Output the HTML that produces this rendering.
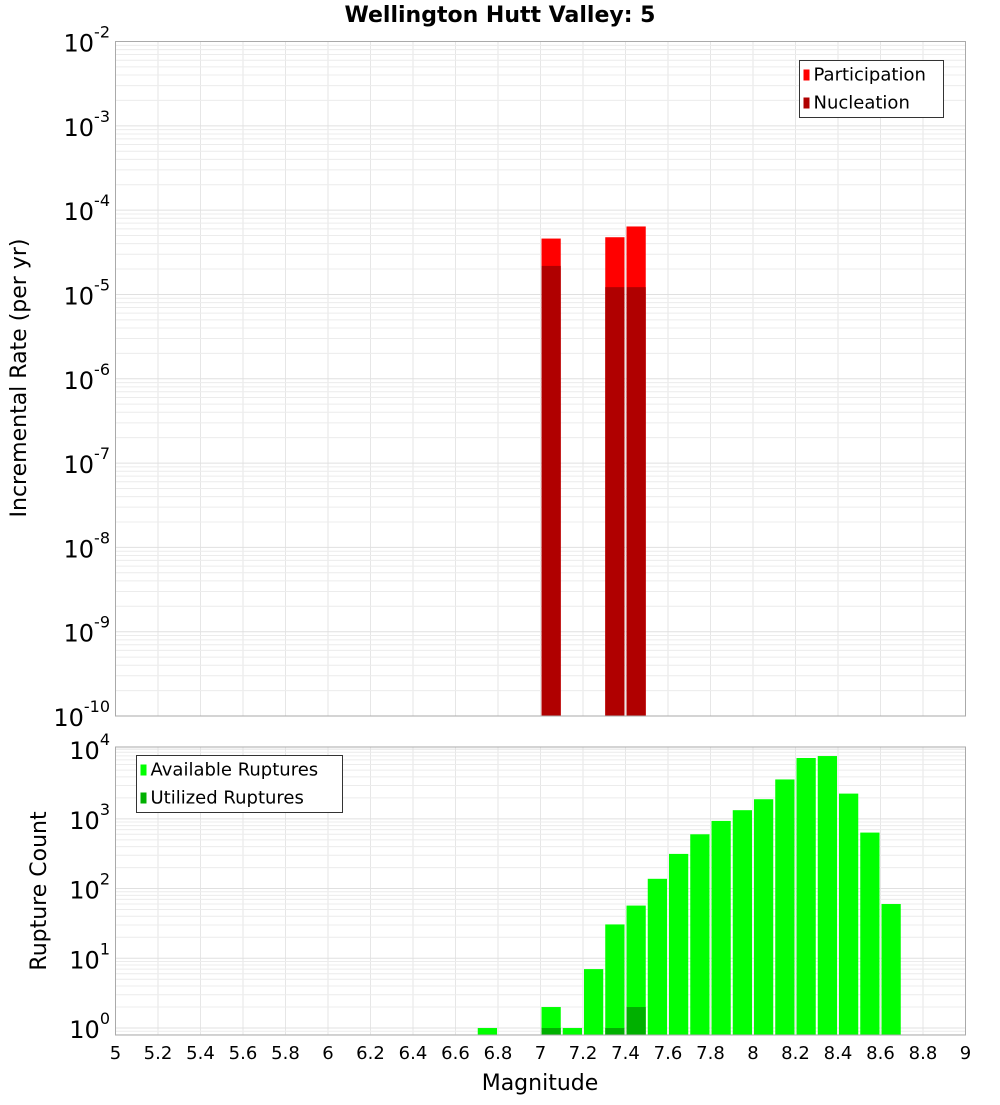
<!DOCTYPE html>
<html><head><meta charset="utf-8"><style>
body{margin:0;background:#fff;font-family:"Liberation Sans","DejaVu Sans",sans-serif;}
svg text{font-family:"DejaVu Sans","Liberation Sans",sans-serif;}
</style></head><body>
<svg id="chart" width="1000" height="1100" xmlns="http://www.w3.org/2000/svg"></svg>
<script>
const topBins=[7.05,7.35,7.45];
const participation=[4.6e-5,4.77e-5,6.4e-5];
const nucleation=[2.18e-5,1.22e-5,1.22e-5];
const botBins=[6.75,7.05,7.15,7.25,7.35,7.45,7.55,7.65,7.75,7.85,7.95,8.05,8.15,8.25,8.35,8.45,8.55,8.65];
const available=[1,2,1,7,30.6,57,138,314,600,933,1330,1910,3670,7450,7950,2300,635,60];
const utilBins=[7.05,7.35,7.45];
const utilized=[1,1,2];
const xTicks=["5","5.2","5.4","5.6","5.8","6","6.2","6.4","6.6","6.8","7","7.2","7.4","7.6","7.8","8","8.2","8.4","8.6","8.8","9"];
const topExps=[-2,-3,-4,-5,-6,-7,-8,-9,-10];
const botExps=[0,1,2,3,4];

const NS="http://www.w3.org/2000/svg";
const svg=document.getElementById('chart');
function mk(tag,attrs,parent){const e=document.createElementNS(NS,tag);for(const k in attrs)e.setAttribute(k,attrs[k]);(parent||svg).appendChild(e);return e;}
const PL=115.5,PR=965.5;
const x=m=>PL+(m-5)/4*(PR-PL);
const T={top:41.5,bot:716,lmin:-10,lmax:-2};
const B={top:747,bot:1035,lmin:-0.1,lmax:4.03};
const yT=v=>T.bot-(Math.log10(v)-T.lmin)/(T.lmax-T.lmin)*(T.bot-T.top);
const yB=v=>B.bot-(Math.log10(v)-B.lmin)/(B.lmax-B.lmin)*(B.bot-B.top);
const bw=0.1;

function grid(P,yf,l0,l1){
  const g=mk('g',{});
  
  
  for(let i=0;i<xTicks.length;i++){const xx=x(5+i*0.2);mk('line',{x1:xx,x2:xx,y1:P.top,y2:P.bot,stroke:'#e6e6e6','stroke-width':1},g);}
  for(let d=Math.floor(l0);d<=Math.ceil(l1);d++){for(let k=1;k<10;k++){const v=k*Math.pow(10,d);const lv=Math.log10(v);if(lv<P.lmin||lv>P.lmax)continue;const yy=yf(v);mk('line',{x1:PL,x2:PR,y1:yy,y2:yy,stroke:k==1?'#e0e0e0':'#ececec','stroke-width':1},g);}}
}
grid(T,yT,T.lmin,T.lmax);
grid(B,yB,B.lmin,B.lmax);

// top bars
for(let i=0;i<topBins.length;i++){
  const x0=x(topBins[i]-bw/2)+1,w=x(topBins[i]+bw/2)-x(topBins[i]-bw/2)-2;
  const p=mk('rect',{x:x0,y:yT(participation[i]),width:w,height:T.bot-yT(participation[i]),fill:'#ff0000'});
  
  
  const n=mk('rect',{x:x0,y:yT(nucleation[i]),width:w,height:T.bot-yT(nucleation[i]),fill:'#b00000'});
  
  
}
// bottom bars
for(let i=0;i<botBins.length;i++){
  const x0=x(botBins[i]-bw/2)+1,w=x(botBins[i]+bw/2)-x(botBins[i]-bw/2)-2;
  const r=mk('rect',{x:x0,y:yB(available[i]),width:w,height:B.bot-yB(available[i]),fill:'#00ff00'});
  
  
}
for(let i=0;i<utilBins.length;i++){
  const x0=x(utilBins[i]-bw/2)+1,w=x(utilBins[i]+bw/2)-x(utilBins[i]-bw/2)-2;
  const r=mk('rect',{x:x0,y:yB(utilized[i]),width:w,height:B.bot-yB(utilized[i]),fill:'#00b000'});
  
  
}
// frames
const f1=mk('rect',{x:PL,y:T.top,width:PR-PL,height:T.bot-T.top,fill:'none',stroke:'#aaaaaa'});


const f2=mk('rect',{x:PL,y:B.top,width:PR-PL,height:B.bot-B.top,fill:'none',stroke:'#aaaaaa'});



// y tick labels
function ylab(yy,e,name){
  const t=mk('text',{x:110,y:yy+10,'text-anchor':'end','font-size':24,fill:'#000'});
  
  
  const a=mk('tspan',{},t);a.textContent='10';
  const s=mk('tspan',{dy:-14,'font-size':16},t);s.textContent=String(e);
}
topExps.forEach(e=>ylab(yT(Math.pow(10,e)),e,'y-tick-label'));
botExps.forEach(e=>ylab(yB(Math.pow(10,e)),e,'y-tick-label'));
// x ticks
xTicks.forEach(s=>{const t=mk('text',{x:x(parseFloat(s)),y:1059,'text-anchor':'middle','font-size':18,fill:'#000'});t.textContent=s;
 
 });
// titles
let t=mk('text',{x:500,y:22,'text-anchor':'middle','font-size':22,'font-weight':'bold'});t.textContent='Wellington Hutt Valley: 5';

t=mk('text',{x:540,y:1090,'text-anchor':'middle','font-size':22});t.textContent='Magnitude';

t=mk('text',{x:0,y:0,'text-anchor':'middle','font-size':22,transform:'translate(26,378) rotate(-90)'});t.textContent='Incremental Rate (per yr)';

t=mk('text',{x:0,y:0,'text-anchor':'middle','font-size':22,transform:'translate(46,891) rotate(-90)'});t.textContent='Rupture Count';


// legends
function legend(x0,y0,w,items,name){
  const g=mk('g',{});
  
  
  mk('rect',{x:x0,y:y0,width:w,height:57,fill:'#fff',stroke:'#333'},g);
  items.forEach((it,i)=>{
    mk('rect',{x:x0+4,y:y0+9+i*28,width:6,height:11,fill:it[1]},g);
    const tt=mk('text',{x:x0+14,y:y0+20+i*28,'font-size':18},g);tt.textContent=it[0];
  });
}
legend(799.5,60.5,144,[['Participation','#ff0000'],['Nucleation','#b00000']],'top-legend');
legend(136.5,755.5,206,[['Available Ruptures','#00ff00'],['Utilized Ruptures','#00b000']],'bottom-legend');
</script>
</body></html>
